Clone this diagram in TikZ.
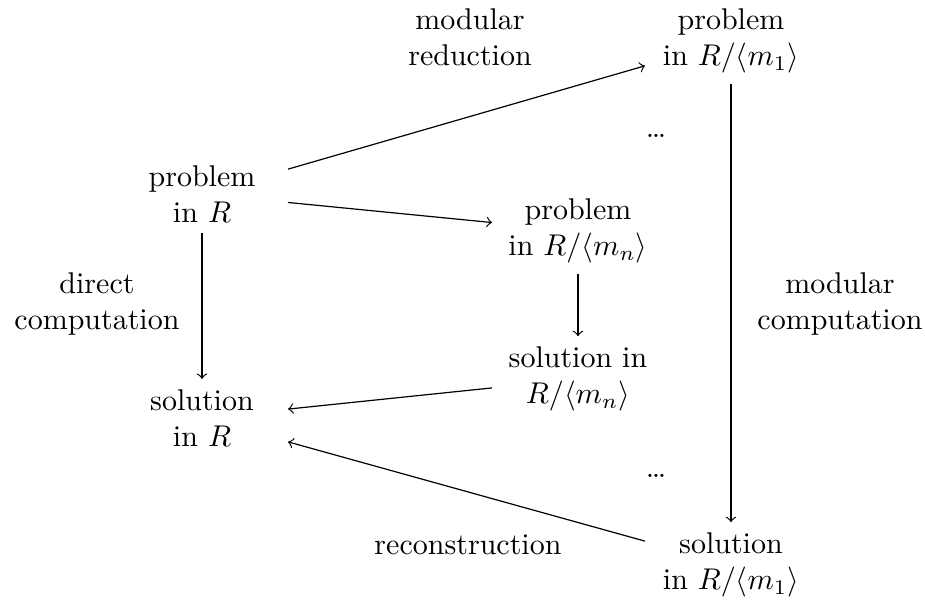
\documentclass[tikz,border=0pt]{standalone}
\begin{document}
\begin{tikzpicture}[x=0.33333pt,y=-0.33333pt,
  box/.style={align=center, minimum width=2cm},
  lbl/.style={align=center},
  ellip/.style={inner sep=0pt},
  arr/.style={->}]
\useasboundingbox (0,0) rectangle (925,605);
\node[box] (pR)  at (202,194) {problem\\in $R$};
\node[box] (sR)  at (202,418) {solution\\in $R$};
\node[box] (pm1) at (731,41)  {problem\\in $R/\langle m_1\rangle$};
\node[box] (pmn) at (578,231) {problem\\in $R/\langle m_n\rangle$};
\node[box] (smn) at (578,379) {solution in\\$R/\langle m_n\rangle$};
\node[box] (sm1) at (731,565) {solution\\in $R/\langle m_1\rangle$};
\node[lbl] (dc) at (97,304)  {direct\\computation};
\node[lbl] (mc) at (840,304) {modular\\computation};
\node[lbl] (mr) at (470,37)  {modular\\reduction};
\node[lbl] (rc) at (468,545) {reconstruction};
\node[ellip] (d1) at (656,136) {.\kern-0.78pt.\kern-0.78pt.};
\node[ellip] (d2) at (656,476) {.\kern-0.78pt.\kern-0.78pt.};
\draw[arr] (pR) -- (pm1);
\draw[arr] (pR) -- (pmn);
\draw[arr] (pR) -- (sR);
\draw[arr] (pmn) -- (smn);
\draw[arr] (pm1) -- (sm1);
\draw[arr] (smn) -- (sR);
\draw[arr] (sm1) -- (sR);
\end{tikzpicture}
\end{document}
